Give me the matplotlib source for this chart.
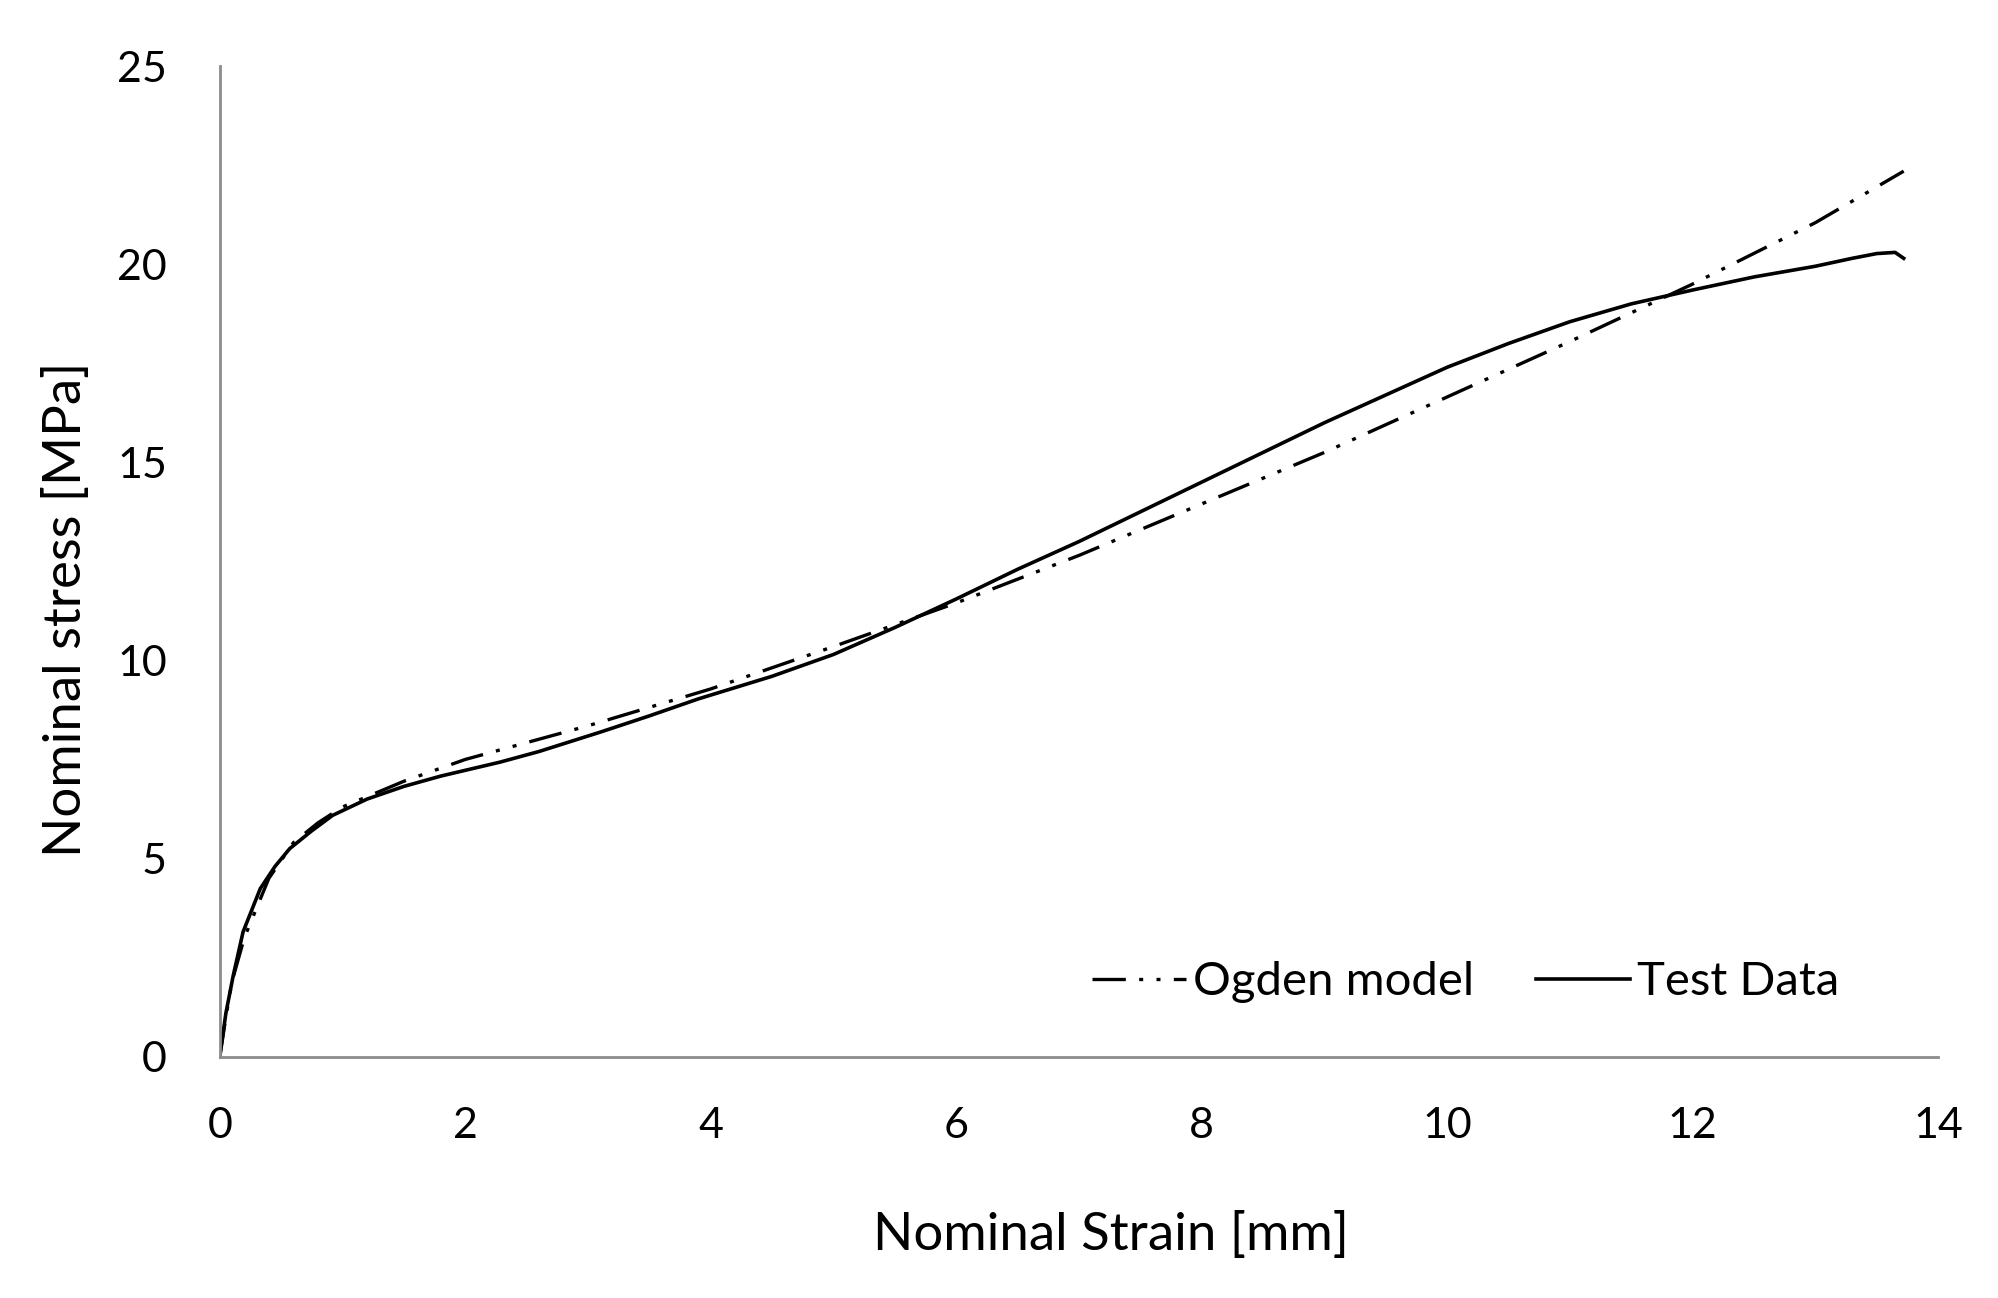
import numpy as np
import matplotlib
matplotlib.use("Agg")
import matplotlib.pyplot as plt

# ---- data ----
test_strain = [0.0, 0.05, 0.11, 0.19, 0.33, 0.45, 0.57, 0.75, 0.92, 1.2, 1.5,
               1.8, 2.28, 2.6, 3.1, 3.5, 3.9, 4.5, 5.0, 5.5, 6.0, 6.5, 7.0,
               7.5, 8.0, 8.5, 9.0, 9.5, 10.0, 10.5, 11.0, 11.5, 12.0, 12.5,
               13.0, 13.3, 13.5, 13.65, 13.72]
test_stress = [0.0, 1.1, 2.05, 3.15, 4.24, 4.8, 5.25, 5.7, 6.09, 6.5, 6.82,
               7.08, 7.43, 7.7, 8.19, 8.6, 9.03, 9.6, 10.15, 10.83, 11.55,
               12.3, 13.0, 13.75, 14.5, 15.25, 16.0, 16.7, 17.4, 18.0, 18.55,
               19.0, 19.35, 19.68, 19.95, 20.15, 20.27, 20.3, 20.15]

ogden_strain = [0.0, 0.05, 0.1, 0.2, 0.4, 0.6, 0.8, 1.0, 1.5, 2.0, 3.0, 4.0,
                5.0, 6.0, 7.0, 8.0, 9.0, 10.0, 11.0, 12.0, 13.0, 13.72]
ogden_stress = [0.0, 1.0, 1.9, 3.0, 4.5, 5.4, 5.9, 6.3, 6.95, 7.5, 8.35, 9.28,
                10.35, 11.45, 12.65, 13.95, 15.25, 16.65, 18.05, 19.5, 21.05,
                22.35]

xticks = [0, 2, 4, 6, 8, 10, 12, 14]
yticks = [0, 5, 10, 15, 20, 25]

plt.rcParams["font.family"] = ["Lato", "DejaVu Sans"]

fig = plt.figure(figsize=(19.98, 12.98), dpi=100)
ax = fig.add_axes([0.110, 0.186, 0.860, 0.763])

ax.plot(ogden_strain, ogden_stress, color="black", lw=2.4,
        dashes=(10, 4, 1.2, 4, 1.2, 4), label="Ogden model")
ax.plot(test_strain, test_stress, color="black", lw=2.6, label="Test Data")

ax.set_xlim(0, 14)
ax.set_ylim(0, 25)
ax.set_xticks(xticks)
ax.set_yticks(yticks)
ax.tick_params(length=0, labelsize=31)
ax.tick_params(axis="x", pad=36)
ax.tick_params(axis="y", pad=38)

for s in ("top", "right"):
    ax.spines[s].set_visible(False)
for s in ("left", "bottom"):
    ax.spines[s].set_color("#8c8c8c")
    ax.spines[s].set_linewidth(2.0)

ax.set_xlabel("Nominal Strain [mm]", fontsize=38)
ax.set_ylabel("Nominal stress [MPa]", fontsize=38)
ax.xaxis.set_label_coords(0.5186, -0.18)
ax.xaxis.label.set_va("center")
ax.yaxis.set_label_coords(-0.0896, 0.452)
ax.yaxis.label.set_va("center")

ax.legend(loc="center", bbox_to_anchor=(0.725, 0.075), ncol=2, frameon=False,
          fontsize=34, handlelength=2.0, handletextpad=0.15, columnspacing=1.3)

fig.savefig("out.png", dpi=100)
